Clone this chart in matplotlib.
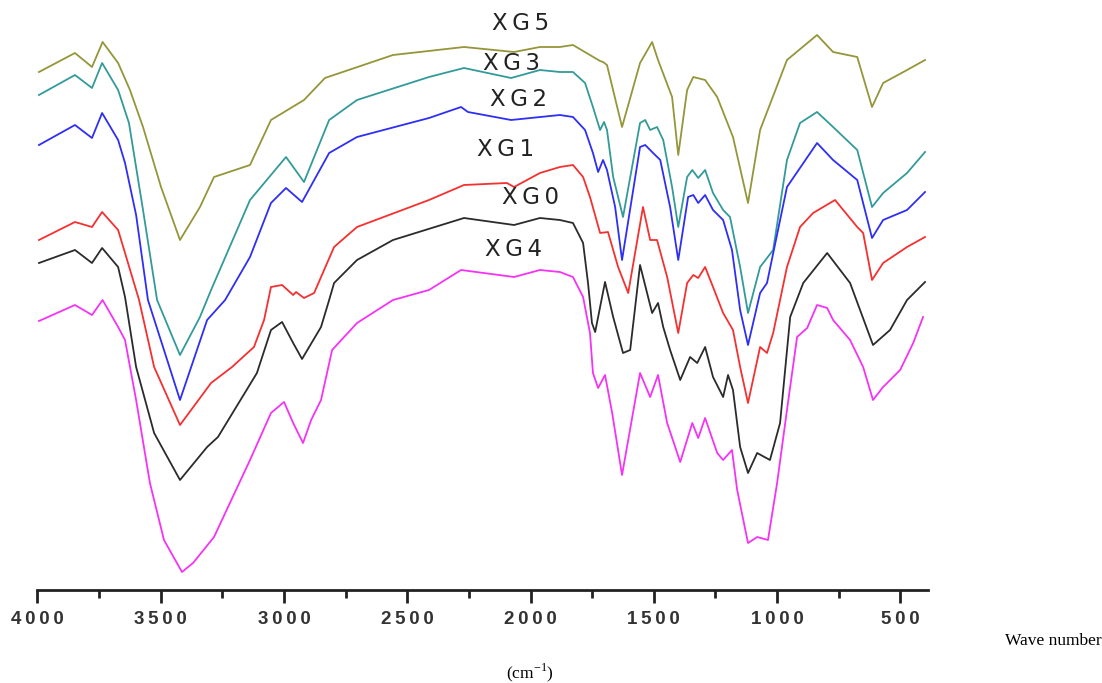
import matplotlib.pyplot as plt
from matplotlib.ticker import MultipleLocator

plt.rcParams['font.family'] = ['Liberation Sans', 'DejaVu Sans']

# FTIR spectra, transmittance in arbitrary units (curves are stacked)
xg5_wn = [3994, 3848, 3779, 3736, 3673, 3625, 3572, 3499, 3422, 3341, 3284, 3138, 3053, 2919, 2834,
          2558, 2270, 2067, 1962, 1881, 1828, 1718, 1706, 1690, 1629, 1556, 1507, 1483, 1426, 1401,
          1365, 1340, 1292, 1243, 1179, 1118, 1069, 960, 838, 773, 675, 615, 570, 473, 400]
xg5_t = [516, 535, 521, 546, 525, 498, 461, 401, 348, 381, 411, 423, 468, 488, 510,
         533, 541, 536, 541, 541, 543, 527, 526, 523, 461, 525, 546, 528, 491, 433,
         498, 511, 508, 491, 451, 385, 458, 528, 553, 536, 531, 481, 505, 518, 528]

xg3_wn = [3994, 3848, 3779, 3738, 3673, 3629, 3572, 3515, 3422, 3341, 3296, 3138, 2992, 2919, 2817,
          2704, 2412, 2270, 2079, 1962, 1881, 1828, 1779, 1747, 1718, 1702, 1690, 1665, 1625, 1556,
          1535, 1515, 1487, 1462, 1426, 1401, 1365, 1344, 1320, 1292, 1260, 1219, 1191, 1150, 1118,
          1069, 1016, 960, 907, 838, 773, 675, 615, 570, 473, 400]
xg3_t = [493, 513, 500, 525, 498, 465, 378, 288, 233, 271, 298, 388, 431, 406, 468,
         488, 511, 520, 510, 518, 516, 516, 505, 481, 458, 466, 458, 411, 371, 465,
         468, 458, 461, 448, 401, 361, 411, 418, 410, 418, 395, 378, 371, 321, 275,
         321, 338, 428, 465, 476, 461, 438, 381, 395, 415, 436]

xg2_wn = [3994, 3848, 3779, 3738, 3673, 3645, 3600, 3552, 3422, 3312, 3239, 3138, 3053, 2992, 2927,
          2817, 2704, 2412, 2282, 2254, 2079, 1881, 1828, 1779, 1747, 1726, 1706, 1690, 1657, 1629,
          1556, 1535, 1503, 1474, 1434, 1401, 1361, 1340, 1320, 1292, 1260, 1219, 1183, 1150, 1118,
          1069, 1041, 960, 838, 773, 675, 615, 570, 473, 400]
xg2_t = [443, 463, 450, 475, 448, 425, 373, 288, 188, 268, 288, 331, 385, 400, 386,
         435, 451, 470, 481, 476, 468, 473, 471, 458, 435, 416, 428, 418, 381, 328,
         441, 443, 435, 428, 381, 328, 391, 393, 385, 393, 378, 368, 338, 278, 243,
         295, 305, 401, 445, 428, 408, 350, 368, 378, 396]

xg1_wn = [3994, 3848, 3779, 3738, 3673, 3645, 3588, 3527, 3422, 3296, 3211, 3122, 3081, 3053, 3008,
          2963, 2951, 2919, 2878, 2797, 2704, 2412, 2270, 2096, 2067, 1962, 1881, 1828, 1787, 1759,
          1718, 1686, 1645, 1604, 1544, 1515, 1487, 1446, 1401, 1365, 1340, 1320, 1292, 1260, 1219,
          1179, 1150, 1118, 1069, 1041, 1016, 960, 907, 854, 765, 675, 651, 615, 570, 473, 400]
xg1_t = [348, 366, 361, 376, 358, 335, 288, 221, 163, 205, 221, 241, 268, 301, 303,
         293, 296, 290, 295, 341, 361, 388, 403, 405, 401, 415, 421, 423, 411, 391,
         355, 356, 321, 295, 381, 348, 348, 311, 255, 305, 313, 310, 321, 301, 275,
         258, 221, 185, 241, 235, 255, 321, 361, 375, 388, 361, 355, 308, 325, 341, 351]

xg0_wn = [3994, 3848, 3779, 3738, 3673, 3645, 3600, 3527, 3422, 3312, 3268, 3110, 3053, 3008, 2963,
          2927, 2850, 2817, 2797, 2704, 2558, 2270, 2067, 1962, 1881, 1828, 1787, 1767, 1751, 1738,
          1698, 1665, 1625, 1596, 1556, 1507, 1483, 1462, 1434, 1393, 1353, 1324, 1292, 1260, 1219,
          1199, 1179, 1150, 1118, 1081, 1029, 988, 947, 894, 797, 704, 611, 542, 473, 400]
xg0_t = [325, 338, 325, 340, 321, 291, 221, 155, 108, 141, 151, 215, 258, 266, 245,
         229, 261, 288, 305, 328, 348, 370, 363, 370, 368, 365, 345, 305, 265, 256,
         306, 271, 235, 238, 323, 275, 285, 261, 238, 208, 231, 225, 241, 211, 191,
         213, 198, 141, 115, 135, 128, 165, 271, 305, 335, 305, 243, 258, 288, 306]

xg4_wn = [3994, 3848, 3779, 3736, 3673, 3645, 3600, 3544, 3487, 3414, 3369, 3284, 3138, 3053, 3000,
          2963, 2923, 2890, 2850, 2805, 2704, 2558, 2412, 2282, 2067, 1962, 1881, 1828, 1787, 1759,
          1747, 1726, 1698, 1669, 1629, 1556, 1515, 1483, 1446, 1393, 1344, 1320, 1292, 1243, 1219,
          1183, 1162, 1118, 1081, 1037, 1000, 960, 919, 878, 838, 797, 773, 704, 651, 611,
          570, 501, 448, 408]
xg4_t = [267, 283, 273, 288, 261, 248, 188, 105, 48, 16, 25, 51, 128, 175, 186,
         165, 145, 168, 188, 238, 265, 288, 298, 318, 311, 318, 316, 311, 291, 255,
         215, 200, 213, 175, 113, 215, 191, 213, 165, 126, 165, 150, 170, 135, 128,
         138, 98, 45, 51, 48, 105, 178, 251, 260, 283, 280, 268, 248, 221, 188,
         201, 218, 245, 271]

names = ['XG5', 'XG3', 'XG2', 'XG1', 'XG0', 'XG4']
colors = ['#95953a', '#339a9a', '#2e2ef5', '#f53030', '#2b2b2b', '#f533f5']
label_wn = [2156, 2193, 2164, 2217, 2116, 2185]
label_t = [564, 524, 488, 438, 391, 339]

tick_values = [4000, 3500, 3000, 2500, 2000, 1500, 1000, 500]
tick_labels = ['4000', '3500', '3000', '2500', '2000', '1500', '1000', '500']

spectra = [(xg5_wn, xg5_t), (xg3_wn, xg3_t), (xg2_wn, xg2_t),
           (xg1_wn, xg1_t), (xg0_wn, xg0_t), (xg4_wn, xg4_t)]

fig = plt.figure(figsize=(11.02, 6.83), dpi=100)
ax = fig.add_axes([37.5 / 1102, 93 / 683, 890 / 1102, 590 / 683])

for (wn, t), c in zip(spectra, colors):
    ax.plot(wn, t, color=c, lw=1.3, clip_on=False)

for name, x, y in zip(names, label_wn, label_t):
    ax.text(x, y, '\u2009'.join(name), family='DejaVu Sans', fontsize=16.5,
            color='#222222', ha='left', va='center')

ax.set_xlim(4000, 390)
ax.set_ylim(-2, 588)
for side in ['top', 'left', 'right']:
    ax.spines[side].set_visible(False)
ax.spines['bottom'].set_linewidth(2)
ax.spines['bottom'].set_color('#222222')
ax.set_yticks([])

ax.set_xticks(tick_values, ['\u2009'.join(s) for s in tick_labels])
ax.xaxis.set_minor_locator(MultipleLocator(250))
ax.tick_params(axis='x', which='major', length=9, width=2, color='#222222',
               pad=6, labelsize=13.5, labelcolor='#333333')
ax.tick_params(axis='x', which='minor', length=6, width=2, color='#222222')
for lbl in ax.get_xticklabels():
    lbl.set_fontweight('bold')

fig.text(1005 / 1102, 1 - 641 / 683, 'Wave number', family='Liberation Serif',
         fontsize=12.5, ha='left', va='center')
fig.text(530 / 1102, 1 - 673 / 683, '(cm$^{\\mathregular{-1}}$)', family='Liberation Serif',
         fontsize=12.5, ha='center', va='center')

fig.savefig('out.png', dpi=100)
